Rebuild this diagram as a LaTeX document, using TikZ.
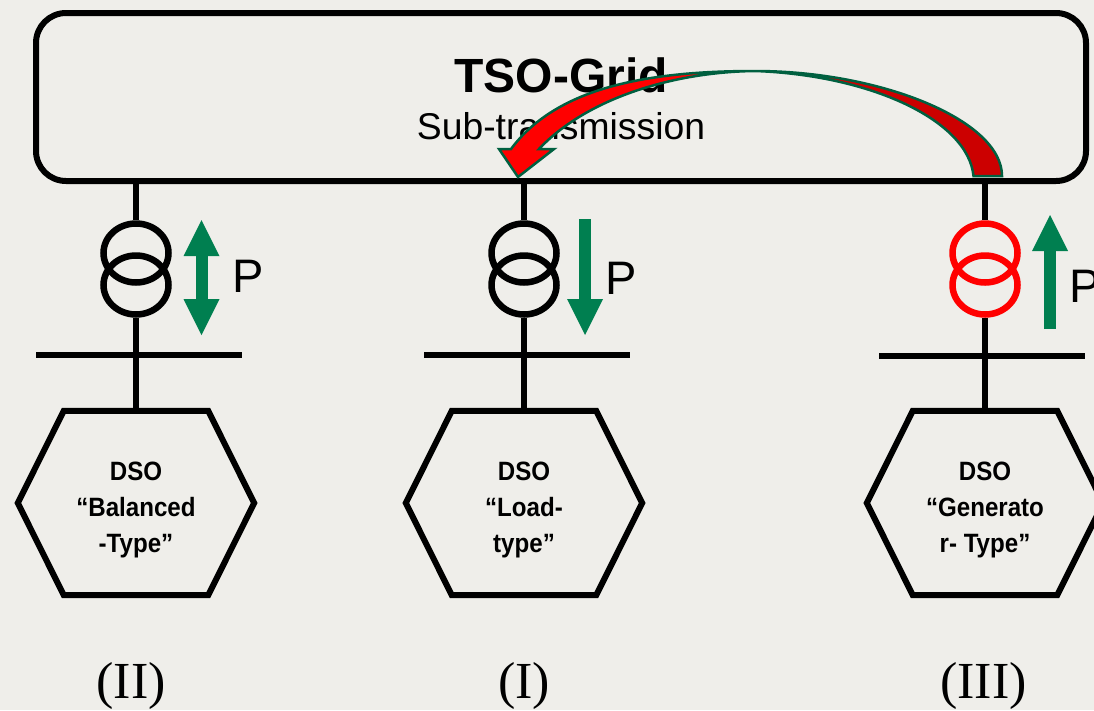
\documentclass[tikz,border=0pt]{standalone}
\usepackage{fontspec}
\usepackage{tikz}
\usetikzlibrary{shapes.geometric,arrows.meta,calc}
\newfontfamily\arialfont{Liberation Sans}
\newfontfamily\narrowfont[FakeStretch=0.91]{Liberation Sans}
\newfontfamily\numeralfont{Liberation Serif}
\definecolor{paper}{RGB}{239,238,234}
\definecolor{flowgreen}{RGB}{0,127,80}
\definecolor{rimgreen}{RGB}{0,96,64}
\definecolor{darkfold}{RGB}{204,0,0}
\newcommand{\dsooutline}[1]{\draw[wire, line join=miter] (#1.west) -- ($(#1.north west)+(46,0)$) -- ($(#1.north east)-(46,0)$) -- (#1.east) -- ($(#1.south east)-(46,0)$) -- ($(#1.south west)+(46,0)$) -- cycle;}

\begin{document}
\begin{tikzpicture}[x=1pt, y=-1pt,
    wire/.style={line width=6pt, black},
    coil/.style={ellipse, draw=black, line width=6.5pt, minimum width=65pt, minimum height=59pt, inner sep=0pt},
    hotcoil/.style={coil, draw=red},
    dso/.style={minimum width=236pt, minimum height=184pt, inner sep=0pt},
    dsotext/.style={align=center, inner sep=0pt, yshift=-7pt, font=\narrowfont\bfseries\fontsize{26.5}{36}\selectfont},
    flow/.style={line width=12pt, flowgreen},
    tag/.style={font=\arialfont\fontsize{47}{50}\selectfont, inner sep=0pt},
    numeral/.style={font=\numeralfont\fontsize{52}{54}\selectfont, inner sep=0pt}
]
    \useasboundingbox[fill=paper] (0,0) rectangle (1094,710);

    % TSO grid
    \node[draw=black, line width=6pt, rounded corners=30pt, minimum width=1050pt, minimum height=168pt] (grid) at (561,97) {};
    \node[font=\arialfont\bfseries\fontsize{48}{50}\selectfont, inner sep=0pt] (gridname) at (561,75) {TSO-Grid};
    \node[font=\arialfont\fontsize{37.3}{40}\selectfont, inner sep=0pt] (gridsub) at (561,126) {Sub-transmission};

    % Balanced type
    \node[coil] (xbtop) at (136,253) {};
    \node[coil] (xbbot) at (136,285) {};
    \node[dso] (dsob) at (136,503) {};
    \dsooutline{dsob}
    \node[dsotext] (dsobt) at (dsob) {DSO\\“Balanced\\-Type”};
    \coordinate (busbl) at (36,355);
    \coordinate (busbr) at (242,355);
    \draw[wire] (busbl) -- (busbr);
    \draw[wire] (grid.south -| xbtop.north) -- (xbtop.north);
    \draw[wire] (xbbot.south) -- (dsob.north);
    \coordinate (flowbt) at (201.5,220);
    \coordinate (flowbb) at (201.5,335);
    \draw[flow, {Triangle[length=36pt, width=36pt, line width=0pt]}-{Triangle[length=36pt, width=36pt, line width=0pt]}] (flowbt) -- (flowbb);
    \node[tag] (pb) at (248,276) {P};
    \node[numeral] (numb) at (131,686) {(II)};

    % Load type
    \node[coil] (xltop) at (524,253) {};
    \node[coil] (xlbot) at (524,285) {};
    \node[dso] (dsol) at (524,503) {};
    \dsooutline{dsol}
    \node[dsotext] (dsolt) at (dsol) {DSO\\“Load-\\type”};
    \coordinate (busll) at (424,355);
    \coordinate (buslr) at (630,355);
    \draw[wire] (busll) -- (buslr);
    \draw[wire] (grid.south -| xltop.north) -- (xltop.north);
    \draw[wire] (xlbot.south) -- (dsol.north);
    \coordinate (flowlt) at (585,219);
    \coordinate (flowlb) at (585,335);
    \draw[flow, -{Triangle[length=36pt, width=36pt, line width=0pt]}] (flowlt) -- (flowlb);
    \node[tag] (pl) at (621,278) {P};
    \node[numeral] (numl) at (524,686) {(I)};

    % Generator type
    \node[hotcoil] (xgtop) at (985,253) {};
    \node[hotcoil] (xgbot) at (985,285) {};
    \node[dso] (dsog) at (985,503) {};
    \dsooutline{dsog}
    \node[dsotext] (dsogt) at (dsog) {DSO\\“Generato\\r- Type”};
    \coordinate (busgl) at (879,356);
    \coordinate (busgr) at (1085,356);
    \draw[wire] (busgl) -- (busgr);
    \draw[wire] (grid.south -| xgtop.north) -- (xgtop.north);
    \draw[wire] (xgbot.south) -- (dsog.north);
    \coordinate (flowgt) at (1050,215);
    \coordinate (flowgb) at (1050,329);
    \draw[flow, -{Triangle[length=36pt, width=36pt, line width=0pt]}] (flowgb) -- (flowgt);
    \node[tag, anchor=west] (pg) at (1069,286) {P};
    \node[numeral] (numg) at (983.5,686) {(III)};

    % Curved arrow
    \fill[darkfold] (755,71) .. controls (880,71) and (1002,120) .. (1002,176)
        -- (973.5,176) .. controls (968,120) and (870,75) .. (755,71) -- cycle;
    \fill[red] (755,71) .. controls (640,71) and (555,90) .. (511,149)
        -- (499,149) -- (518,177) -- (554,149) -- (539,149)
        .. controls (585,100) and (670,72) .. (755,71) -- cycle;
    \draw[rimgreen, line width=2.5pt, line join=miter] (973.5,176) .. controls (968,120) and (870,75) .. (755,71)
        .. controls (670,72) and (585,100) .. (539,149) -- (554,149) -- (518,177) -- (499,149) -- (511,149)
        .. controls (555,90) and (640,71) .. (755,71) .. controls (880,71) and (1002,120) .. (1002,176) -- cycle;
\end{tikzpicture}
\end{document}
